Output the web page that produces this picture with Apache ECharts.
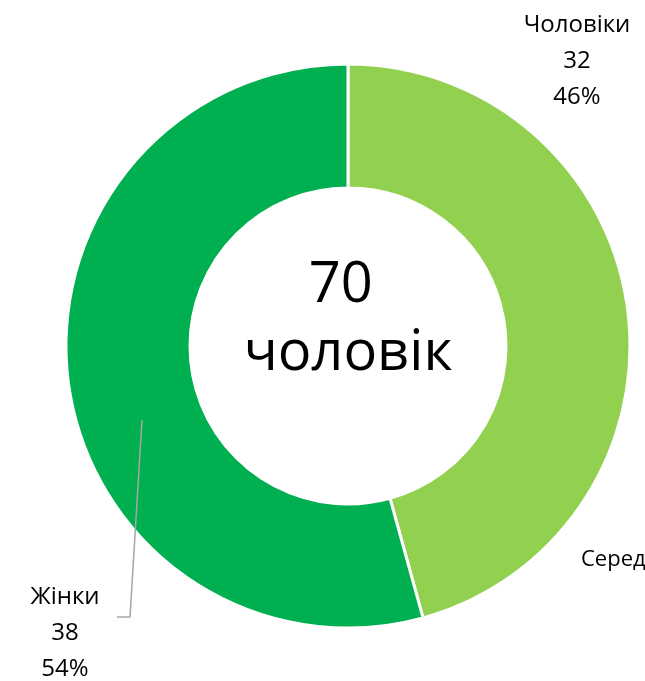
<!DOCTYPE html>
<html>
<head>
<meta charset="utf-8">
<script src="https://cdn.jsdelivr.net/npm/echarts@6/dist/echarts.min.js"></script>
<style>
  html, body { margin: 0; padding: 0; background: #fff; }
  #chart { width: 645px; height: 681px; }
</style>
</head>
<body>
<div id="chart"></div>
<script>
// data
const categories = ['Чоловіки', 'Жінки']
const values = [32, 38]
const colors = ['#92D050', '#00B050']
const totalText = ['70 ', 'чоловік']
const cutLabel = 'Середній вік'

const fontFamily = '"Open Sans", "Noto Sans", sans-serif'

const chart = echarts.init(document.getElementById('chart'))

// hand placed label spots (like the source chart)
const labelPos = [
  { x: 577, y: 61 },
  { x: 65, y: 633 }
]

chart.setOption({
  animation: false,
  graphic: [
    {
      type: 'text',
      x: 348,
      y: 252,
      style: {
        text: totalText.join('\n'),
        align: 'center',
        fontSize: 56,
        lineHeight: 68,
        fontFamily: fontFamily,
        fill: '#000'
      }
    },
    {
      type: 'text',
      x: 581,
      y: 549,
      style: {
        text: cutLabel,
        fontSize: 22,
        fontFamily: fontFamily,
        fill: '#000'
      }
    },
    {
      // leader line for Жінки
      type: 'polyline',
      z: 100,
      shape: { points: [[142, 420], [130, 617], [117, 617]] },
      style: { stroke: '#a6a6a6', lineWidth: 1.5, fill: null }
    }
  ],
  series: [{
    type: 'pie',
    center: [348, 346],
    radius: [158, 282],
    startAngle: 90,
    clockwise: true,
    percentPrecision: 0,
    itemStyle: {
      borderColor: '#fff',
      borderWidth: 3
    },
    label: {
      show: true,
      formatter: '{b}\n{c}\n{d}%',
      fontSize: 24,
      lineHeight: 36,
      fontFamily: fontFamily,
      color: '#000',
      overflow: 'none'
    },
    labelLine: { show: false },
    labelLayout: function (params) {
      const p = labelPos[params.dataIndex]
      return { x: p.x, y: p.y, align: 'center', verticalAlign: 'middle' }
    },
    data: categories.map(function (name, i) {
      return {
        name: name,
        value: values[i],
        itemStyle: { color: colors[i] }
      }
    })
  }]
})
</script>
</body>
</html>
